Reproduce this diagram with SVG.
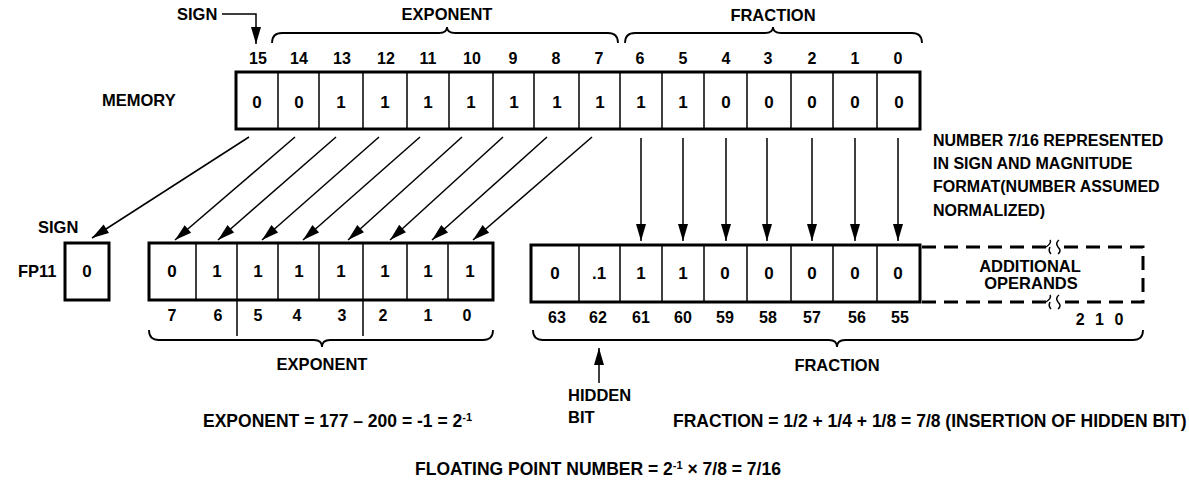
<svg xmlns="http://www.w3.org/2000/svg" width="1189" height="491" viewBox="0 0 1189 491">
<defs>
<style>
text { font-family: "Liberation Sans", Arial, sans-serif; font-weight: bold; fill:#000; }
.lbl { font-size:16.5px; }
.note { font-size:16px; }
.big { font-size:17.5px; }
.mid { text-anchor:middle; }
.num { font-size:16px; text-anchor:middle; }
.val { font-size:17px; text-anchor:middle; }
.box { fill:#fff; stroke:#000; stroke-width:3; }
.div { stroke:#000; stroke-width:1.5; }
.arr { stroke:#000; stroke-width:1.5; fill:none; marker-end:url(#ah); }
.brace { fill:none; stroke:#000; stroke-width:1.8; }
.dash { fill:none; stroke:#000; stroke-width:3; stroke-dasharray:14 8; }
.sq { fill:none; stroke:#000; stroke-width:1.5; }
</style>
<marker id="ah" markerUnits="userSpaceOnUse" viewBox="-18 -6 19 12" markerWidth="19" markerHeight="12" refX="0" refY="0" orient="auto"><path d="M0,0 L-17,-5 L-17,5 Z" fill="#000"/></marker>
</defs>
<rect width="1189" height="491" fill="#fff"/>

<g id="top-labels">
<text class="lbl" x="177" y="20">SIGN</text>
<text class="lbl mid" x="447" y="20">EXPONENT</text>
<text class="lbl mid" x="773" y="21">FRACTION</text>
<path class="brace" d="M272,43 Q272,33 282,33 L439,33 Q447,33 447,27 Q447,33 455,33 L608,33 Q618,33 618,43"/>
<path class="brace" d="M625,43 Q625,33 635,33 L765,33 Q773,33 773,27 Q773,33 781,33 L912,33 Q922,33 922,43"/>
</g>

<g id="memory">
<text class="lbl" x="102" y="106">MEMORY</text>
<rect class="box" x="236" y="72" width="684" height="57"/>
<g class="div">
<line x1="278" y1="72" x2="278" y2="129"/><line x1="319" y1="72" x2="319" y2="129"/><line x1="363" y1="72" x2="363" y2="129"/><line x1="407" y1="72" x2="407" y2="129"/><line x1="449" y1="72" x2="449" y2="129"/><line x1="493" y1="72" x2="493" y2="129"/><line x1="534" y1="72" x2="534" y2="129"/><line x1="579" y1="72" x2="579" y2="129"/><line x1="620" y1="72" x2="620" y2="129"/><line x1="662" y1="72" x2="662" y2="129"/><line x1="704" y1="72" x2="704" y2="129"/><line x1="747" y1="72" x2="747" y2="129"/><line x1="791" y1="72" x2="791" y2="129"/><line x1="833" y1="72" x2="833" y2="129"/><line x1="877" y1="72" x2="877" y2="129"/>
</g>
<text class="num" x="258" y="64">15</text><text class="num" x="299" y="64">14</text><text class="num" x="342" y="64">13</text><text class="num" x="386" y="64">12</text><text class="num" x="428" y="64">11</text><text class="num" x="472" y="64">10</text><text class="num" x="513" y="64">9</text><text class="num" x="556" y="64">8</text><text class="num" x="599" y="64">7</text><text class="num" x="640" y="64">6</text><text class="num" x="683" y="64">5</text><text class="num" x="726" y="64">4</text><text class="num" x="768" y="64">3</text><text class="num" x="812" y="64">2</text><text class="num" x="855" y="64">1</text><text class="num" x="898" y="64">0</text>
<text class="val" x="257" y="108">0</text><text class="val" x="299" y="108">0</text><text class="val" x="341" y="108">1</text><text class="val" x="385" y="108">1</text><text class="val" x="428" y="108">1</text><text class="val" x="471" y="108">1</text><text class="val" x="514" y="108">1</text><text class="val" x="557" y="108">1</text><text class="val" x="600" y="108">1</text><text class="val" x="641" y="108">1</text><text class="val" x="683" y="108">1</text><text class="val" x="726" y="108">0</text><text class="val" x="769" y="108">0</text><text class="val" x="812" y="108">0</text><text class="val" x="855" y="108">0</text><text class="val" x="899" y="108">0</text>
</g>

<g id="note">
<text class="note" x="933" y="146">NUMBER 7/16 REPRESENTED</text>
<text class="note" x="933" y="169">IN SIGN AND MAGNITUDE</text>
<text class="note" x="933" y="192">FORMAT(NUMBER ASSUMED</text>
<text class="note" x="933" y="216">NORMALIZED)</text>
</g>

<g id="fp11-sign">
<text class="lbl" x="38" y="233">SIGN</text>
<text class="lbl" x="18" y="277">FP11</text>
<rect class="box" x="65" y="243" width="44" height="57"/>
<text class="val" x="87" y="277">0</text>
</g>

<g id="fp11-exponent">
<rect class="box" x="149" y="243" width="344" height="57"/>
<g class="div">
<line x1="196" y1="243" x2="196" y2="300"/><line x1="237" y1="243" x2="237" y2="336"/><line x1="278" y1="243" x2="278" y2="300"/><line x1="319" y1="243" x2="319" y2="300"/><line x1="363" y1="243" x2="363" y2="336"/><line x1="407" y1="243" x2="407" y2="300"/><line x1="448" y1="243" x2="448" y2="300"/>
</g>
<text class="val" x="172" y="277">0</text><text class="val" x="217" y="277">1</text><text class="val" x="258" y="277">1</text><text class="val" x="299" y="277">1</text><text class="val" x="341" y="277">1</text><text class="val" x="385" y="277">1</text><text class="val" x="428" y="277">1</text><text class="val" x="470" y="277">1</text>
<text class="num" x="172" y="321">7</text><text class="num" x="218" y="321">6</text><text class="num" x="258" y="321">5</text><text class="num" x="297" y="321">4</text><text class="num" x="342" y="321">3</text><text class="num" x="383" y="321">2</text><text class="num" x="428" y="321">1</text><text class="num" x="467" y="321">0</text>
<path class="brace" d="M149,330 Q149,340 159,340 L314,340 Q322,340 322,347 Q322,340 330,340 L483,340 Q493,340 493,330"/>
<text class="lbl mid" x="322" y="370">EXPONENT</text>
</g>

<g id="fp11-fraction">
<rect class="box" x="531" y="245" width="389" height="57"/>
<g class="div">
<line x1="579" y1="245" x2="579" y2="302"/><line x1="620" y1="245" x2="620" y2="302"/><line x1="662" y1="245" x2="662" y2="302"/><line x1="704" y1="245" x2="704" y2="302"/><line x1="747" y1="245" x2="747" y2="302"/><line x1="791" y1="245" x2="791" y2="302"/><line x1="833" y1="245" x2="833" y2="302"/><line x1="877" y1="245" x2="877" y2="302"/>
</g>
<text class="val" x="555" y="279">0</text><text class="val" x="599" y="279">.1</text><text class="val" x="641" y="279">1</text><text class="val" x="683" y="279">1</text><text class="val" x="725" y="279">0</text><text class="val" x="769" y="279">0</text><text class="val" x="812" y="279">0</text><text class="val" x="855" y="279">0</text><text class="val" x="898" y="279">0</text>
<text class="num" x="557" y="323">63</text><text class="num" x="598" y="323">62</text><text class="num" x="641" y="323">61</text><text class="num" x="683" y="323">60</text><text class="num" x="725" y="323">59</text><text class="num" x="768" y="323">58</text><text class="num" x="812" y="323">57</text><text class="num" x="857" y="323">56</text><text class="num" x="900" y="323">55</text>
<path class="brace" d="M533,330 Q533,340 543,340 L829,340 Q837,340 837,347 Q837,340 845,340 L1133,340 Q1143,340 1143,330"/>
<text class="lbl mid" x="837" y="371">FRACTION</text>
</g>

<g id="additional-operands">
<path class="dash" d="M922,247 L1046,247"/>
<path class="dash" d="M1064,247 L1143,247 L1143,302 L1064,302"/>
<path class="dash" d="M922,302 L1046,302"/>
<path class="sq" d="M1046,247 Q1052,243 1050,240 M1050,247 Q1048,251 1051,254 M1059,240 Q1055,243 1058,247 Q1062,251 1058,254"/>
<path class="sq" d="M1046,302 Q1052,298 1050,295 M1050,302 Q1048,306 1051,309 M1059,295 Q1055,298 1058,302 Q1062,306 1058,309"/>
<text class="lbl mid" x="1030" y="272">ADDITIONAL</text>
<text class="lbl mid" x="1031" y="289">OPERANDS</text>
<text class="num" x="1101" y="325" style="letter-spacing:3px">2 1 0</text>
</g>

<g id="connectors">
<polyline class="arr" points="222,14 256,14 256,44"/>
<line class="arr" x1="249" y1="137" x2="92" y2="238"/>
<line class="arr" x1="295" y1="137" x2="175" y2="240"/>
<line class="arr" x1="336" y1="137" x2="218" y2="240"/>
<line class="arr" x1="379" y1="137" x2="262" y2="240"/>
<line class="arr" x1="420" y1="137" x2="303" y2="240"/>
<line class="arr" x1="462" y1="137" x2="348" y2="240"/>
<line class="arr" x1="503" y1="137" x2="390" y2="240"/>
<line class="arr" x1="547" y1="137" x2="432" y2="240"/>
<line class="arr" x1="592" y1="137" x2="473" y2="240"/>
<line class="arr" x1="641" y1="138" x2="641" y2="241"/>
<line class="arr" x1="683" y1="138" x2="683" y2="241"/>
<line class="arr" x1="726" y1="138" x2="726" y2="241"/>
<line class="arr" x1="767" y1="138" x2="767" y2="241"/>
<line class="arr" x1="812" y1="138" x2="812" y2="241"/>
<line class="arr" x1="855" y1="138" x2="855" y2="241"/>
<line class="arr" x1="898" y1="138" x2="898" y2="241"/>
<line class="arr" x1="599" y1="383" x2="599" y2="348"/>
</g>

<g id="formulas">
<text class="lbl" x="568" y="401">HIDDEN</text>
<text class="lbl" x="568" y="423">BIT</text>
<text class="big" x="203" y="427">EXPONENT = 177 – 200 = -1 = 2<tspan dy="-6" font-size="11">-1</tspan></text>
<text class="big" x="673" y="427">FRACTION = 1/2 + 1/4 + 1/8 = 7/8 (INSERTION OF HIDDEN BIT)</text>
<text class="big" x="415" y="475">FLOATING POINT NUMBER = 2<tspan dy="-6" font-size="11">-1</tspan><tspan dy="6"> × 7/8 = 7/16</tspan></text>
</g>
</svg>
